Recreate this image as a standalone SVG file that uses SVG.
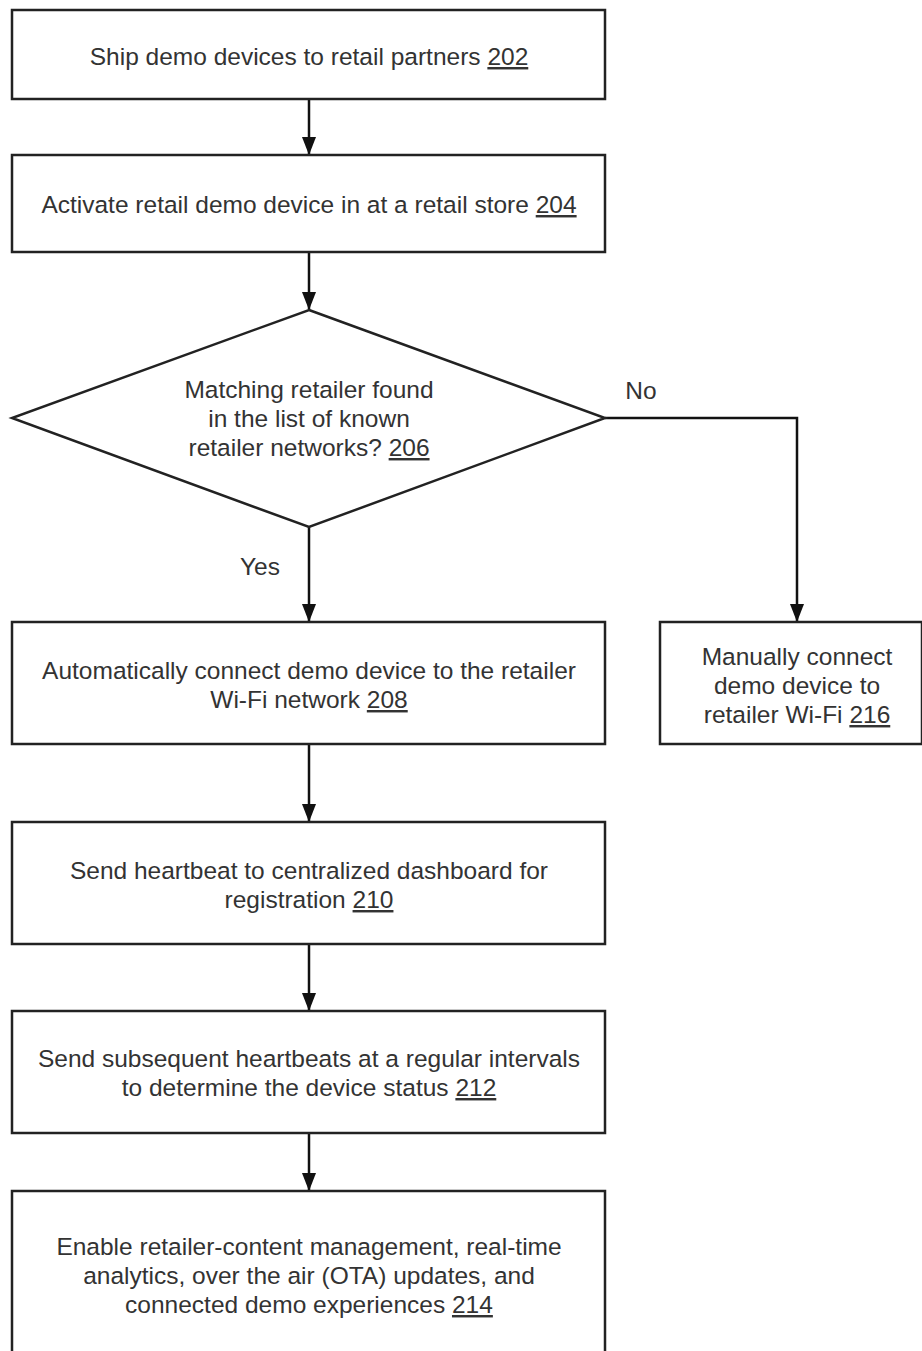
<svg xmlns="http://www.w3.org/2000/svg" width="922" height="1351" viewBox="0 0 922 1351">
<defs>
<marker id="arr" markerWidth="18" markerHeight="14" refX="17" refY="7" orient="auto" markerUnits="userSpaceOnUse" viewBox="0 0 18 14">
<path d="M0,0 L18,7 L0,14 Z" fill="#111"/>
</marker>
<style>
.box{fill:#fff;stroke:#222;stroke-width:2.5}
.t{font-family:"Liberation Sans",Arial,sans-serif;font-size:24.5px;fill:#333;text-anchor:middle}
.u{text-decoration:underline}
.c{fill:none;stroke:#111;stroke-width:2.5}
</style>
</defs>
<rect width="922" height="1351" fill="#fff"/>
<g id="connectors">
<line class="c" x1="309" y1="99" x2="309" y2="154" marker-end="url(#arr)"/>
<line class="c" x1="309" y1="252" x2="309" y2="309" marker-end="url(#arr)"/>
<line class="c" x1="309" y1="527" x2="309" y2="621" marker-end="url(#arr)"/>
<polyline class="c" points="605,418 797,418 797,621" marker-end="url(#arr)"/>
<line class="c" x1="309" y1="744" x2="309" y2="821" marker-end="url(#arr)"/>
<line class="c" x1="309" y1="944" x2="309" y2="1010" marker-end="url(#arr)"/>
<line class="c" x1="309" y1="1133" x2="309" y2="1190" marker-end="url(#arr)"/>
<text class="t" x="641" y="399">No</text>
<text class="t" x="260" y="575">Yes</text>
</g>
<g id="n202">
<rect class="box" x="12" y="10" width="593" height="89"/>
<text class="t" x="309" y="65">Ship demo devices to retail partners <tspan class="u">202</tspan></text>
</g>
<g id="n204">
<rect class="box" x="12" y="155" width="593" height="97"/>
<text class="t" x="309" y="213">Activate retail demo device in at a retail store <tspan class="u">204</tspan></text>
</g>
<g id="n206">
<polygon class="box" points="309,310 605,418 309,527 12,418"/>
<text class="t" x="309" y="398">Matching retailer found</text>
<text class="t" x="309" y="427">in the list of known</text>
<text class="t" x="309" y="456">retailer networks? <tspan class="u">206</tspan></text>
</g>
<g id="n208">
<rect class="box" x="12" y="622" width="593" height="122"/>
<text class="t" x="309" y="679">Automatically connect demo device to the retailer</text>
<text class="t" x="309" y="708">Wi-Fi network <tspan class="u">208</tspan></text>
</g>
<g id="n216">
<rect class="box" x="660" y="622" width="262" height="122"/>
<text class="t" x="797" y="665">Manually connect</text>
<text class="t" x="797" y="694">demo device to</text>
<text class="t" x="797" y="723">retailer Wi-Fi <tspan class="u">216</tspan></text>
</g>
<g id="n210">
<rect class="box" x="12" y="822" width="593" height="122"/>
<text class="t" x="309" y="879">Send heartbeat to centralized dashboard for</text>
<text class="t" x="309" y="908">registration <tspan class="u">210</tspan></text>
</g>
<g id="n212">
<rect class="box" x="12" y="1011" width="593" height="122"/>
<text class="t" x="309" y="1067">Send subsequent heartbeats at a regular intervals</text>
<text class="t" x="309" y="1096">to determine the device status <tspan class="u">212</tspan></text>
</g>
<g id="n214">
<rect class="box" x="12" y="1191" width="593" height="164"/>
<text class="t" x="309" y="1255">Enable retailer-content management, real-time</text>
<text class="t" x="309" y="1284">analytics, over the air (OTA) updates, and</text>
<text class="t" x="309" y="1313">connected demo experiences <tspan class="u">214</tspan></text>
</g>
</svg>
